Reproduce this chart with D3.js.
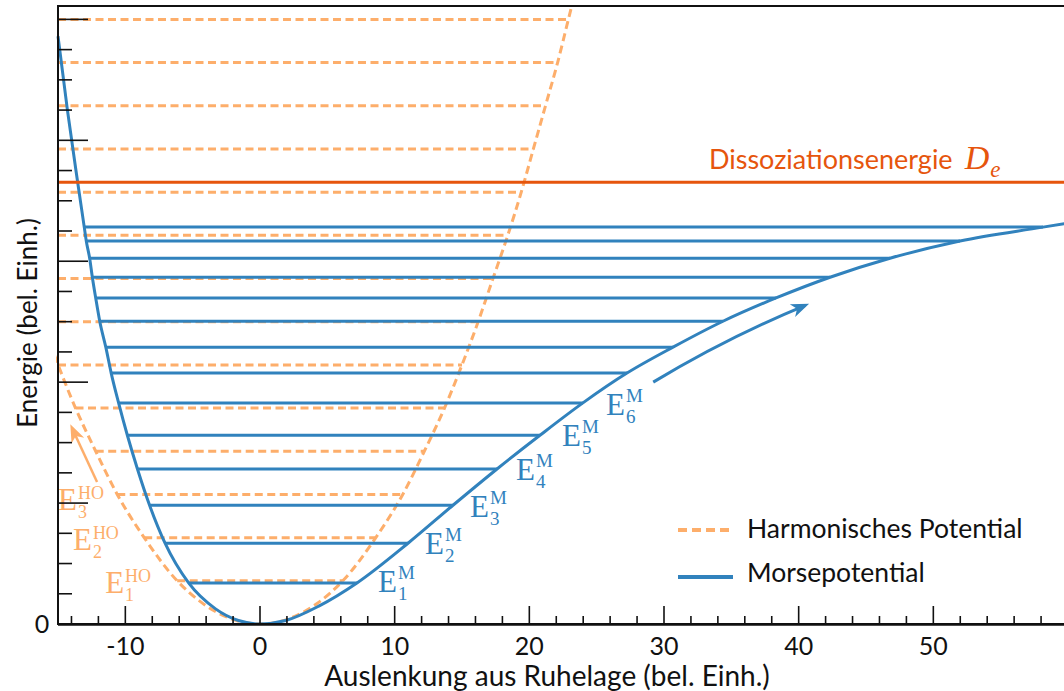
<!DOCTYPE html>
<html>
<head>
<meta charset="utf-8">
<script src="https://cdn.jsdelivr.net/npm/d3@7"></script>
<style>
  body { margin: 0; background: #fff; }
  svg { display: block; }
</style>
</head>
<body>
<svg id="chart" width="1064" height="691"></svg>
<script>
// ---- Data (energies in units of ħω, displacement in arbitrary units) ----

// Harmonic oscillator: levels and where each level meets the parabola
const hoLevels = [1, 2, 3, 4, 5, 6, 7, 8, 9, 10, 11, 12, 13, 14];
const hoLeftX  = [-6.15, -8.6, -10.6, -12.2, -13.7, -15.0, -16.2, -17.3, -18.4, -19.4, -20.3, -21.2, -22.1, -22.9];
const hoRightX = [6.15, 8.6, 10.6, 12.2, 13.7, 15.0, 16.2, 17.3, 18.4, 19.4, 20.3, 21.2, 22.1, 22.9];

// Harmonic potential curve samples
const hoCurveX = [-15.6, -13.7, -12.2, -10.6, -8.6, -6.15, -4.35, 0, 4.35, 6.15, 8.6, 10.6, 12.2, 13.7, 15.0, 16.2, 17.3, 18.4, 19.4, 20.3, 21.2, 22.1, 22.9, 23.5];
const hoCurveE = [6.5, 5, 4, 3, 2, 1, 0.5, 0, 0.5, 1, 2, 3, 4, 5, 6, 7, 8, 9, 10, 11, 12, 13, 14, 14.75];

// Morse oscillator: levels and their turning points
const morseLevels = [0.95, 1.87, 2.75, 3.59, 4.37, 5.12, 5.81, 6.41, 7.01, 7.55, 8.03, 8.47, 8.87, 9.19];
const morseLeftX  = [-5.3, -7.05, -8.2, -9.1, -9.85, -10.5, -11.05, -11.45, -11.9, -12.2, -12.45, -12.65, -12.9, -13.05];
const morseRightX = [7.2, 10.99, 14.33, 17.6, 20.79, 23.98, 27.25, 30.67, 34.38, 38.32, 42.33, 46.78, 51.98, 58.14];

// Morse potential curve samples
const morseCurveX = [-15.0, -14.3, -13.54, -13.05, -12.9, -12.65, -12.45, -12.2, -11.9, -11.45, -11.05, -10.5, -9.85, -9.1, -8.2, -7.05, -5.3, -3.3, -1.6, 0, 1.9, 4.4,
                     7.2, 10.99, 14.33, 17.6, 20.79, 23.98, 27.25, 30.67, 34.38, 38.32, 42.33, 46.78, 51.98, 58.14, 60.5];
const morseCurveE = [13.61, 11.9, 10.23, 9.19, 8.87, 8.47, 8.03, 7.55, 7.01, 6.41, 5.81, 5.12, 4.37, 3.59, 2.75, 1.87, 0.95, 0.35, 0.08, 0, 0.08, 0.42,
                     0.95, 1.87, 2.75, 3.59, 4.37, 5.12, 5.81, 6.41, 7.01, 7.55, 8.03, 8.47, 8.87, 9.19, 9.31];

// Dissociation energy
const dissociationEnergy = 10.23;

// Axis ticks
const xTickValues = d3.range(-14, 59, 2);
const xTickLabels = [-10, 0, 10, 20, 30, 40, 50];
const yTickValues = d3.range(0, 21).map(i => i * 0.7);

// Level annotations: [x, E, index]
const morseLabelPos = [[8.76, 0.74, 1], [12.25, 1.62, 2], [15.59, 2.48, 3], [19.01, 3.33, 4], [22.43, 4.12, 5], [25.69, 4.84, 6]];
const hoLabelPos = [[-11.5, 0.72, 1], [-13.89, 1.71, 2], [-15.0, 2.64, 3]];

// ---- Layout ----
const svg = d3.select("#chart");
const x = d3.scaleLinear().domain([-15, 60]).range([58, 1068]);
const y = d3.scaleLinear().domain([0, 14.31]).range([624, 6]);

const colors = { ho: "#fdae6b", morse: "#3182bd", de: "#e6550d", axis: "#111" };
const sans = "Lato, 'Open Sans', sans-serif";
const serif = "'Liberation Serif', 'DejaVu Serif', serif";

const defs = svg.append("defs");
defs.append("clipPath").attr("id", "plot-area")
  .append("rect")
  .attr("x", x(-15) - 2).attr("y", y(14.31))
  .attr("width", x(60) - x(-15) + 2).attr("height", y(0) - y(14.31));

function arrowMarker(id, color) {
  defs.append("marker")
    .attr("id", id)
    .attr("viewBox", "-16 -8 22 16")
    .attr("refX", 0).attr("refY", 0)
    .attr("markerWidth", 22).attr("markerHeight", 16)
    .attr("markerUnits", "userSpaceOnUse")
    .attr("orient", "auto")
    .append("path")
    .attr("d", "M4,0 L-14,-7 L-9,0 L-14,7 Z")
    .attr("fill", color);
}
arrowMarker("arrow-morse", colors.morse);
arrowMarker("arrow-ho", colors.ho);

const plot = svg.append("g").attr("clip-path", "url(#plot-area)");

// Harmonic levels (dashed)
plot.append("g").selectAll("line").data(hoLevels).join("line")
  .attr("x1", (d, i) => Math.max(x(hoLeftX[i]), x(-15)))
  .attr("x2", (d, i) => x(hoRightX[i]))
  .attr("y1", d => y(d)).attr("y2", d => y(d))
  .attr("stroke", colors.ho).attr("stroke-width", 3)
  .attr("stroke-dasharray", "8,4.5");

// Harmonic potential (dashed)
const line = d3.line().x(d => x(d[0])).y(d => y(d[1])).curve(d3.curveMonotoneX);
plot.append("path")
  .datum(d3.zip(hoCurveX, hoCurveE))
  .attr("d", line)
  .attr("fill", "none")
  .attr("stroke", colors.ho).attr("stroke-width", 3)
  .attr("stroke-dasharray", "8,4.5");

// Morse levels
plot.append("g").selectAll("line").data(morseLevels).join("line")
  .attr("x1", (d, i) => x(morseLeftX[i]))
  .attr("x2", (d, i) => x(morseRightX[i]))
  .attr("y1", d => y(d)).attr("y2", d => y(d))
  .attr("stroke", colors.morse).attr("stroke-width", 3);

// Morse potential
plot.append("path")
  .datum(d3.zip(morseCurveX, morseCurveE))
  .attr("d", line)
  .attr("fill", "none")
  .attr("stroke", colors.morse).attr("stroke-width", 3);

// Dissociation energy
plot.append("line")
  .attr("x1", x(-15)).attr("x2", x(60))
  .attr("y1", y(dissociationEnergy)).attr("y2", y(dissociationEnergy))
  .attr("stroke", colors.de).attr("stroke-width", 3);

const deLabel = svg.append("text")
  .attr("x", x(33.34)).attr("y", y(dissociationEnergy) - 13)
  .attr("fill", colors.de)
  .style("font-family", sans).style("font-size", "27px")
  .text("Dissoziationsenergie");
deLabel.append("tspan").attr("dx", 12)
  .style("font-family", serif).style("font-style", "italic").style("font-size", "34px")
  .text("D");
deLabel.append("tspan").attr("dy", 8).attr("dx", 1)
  .style("font-family", serif).style("font-style", "italic").style("font-size", "23px")
  .text("e");

// Direction arrows along the potentials
const mp = d3.path();
mp.moveTo(x(29.2), y(5.6));
mp.quadraticCurveTo(x(34.6), y(6.62), x(40.5), y(7.38));
svg.append("path").attr("d", mp.toString())
  .attr("fill", "none").attr("stroke", colors.morse).attr("stroke-width", 3)
  .attr("marker-end", "url(#arrow-morse)");

svg.append("path")
  .attr("d", `M${x(-12.1)},${y(3.29)} L${x(-13.96)},${y(4.54)}`)
  .attr("fill", "none").attr("stroke", colors.ho).attr("stroke-width", 2.5)
  .attr("marker-end", "url(#arrow-ho)");

// Level labels E_n^M and E_n^HO: one text, superscript and subscript stacked
function levelLabel(xv, yv, sup, sub, color, opts) {
  const t = svg.append("text")
    .attr("x", x(xv)).attr("y", y(yv))
    .attr("fill", color)
    .style("font-family", serif);
  t.append("tspan").style("font-size", "31px").text("E");
  const supSpan = t.append("tspan").attr("dx", 1).attr("dy", -opts.up)
    .style("font-size", opts.size + "px").text(sup);
  const supW = supSpan.node().getComputedTextLength();
  t.append("tspan").attr("dx", -supW).attr("dy", opts.up + opts.down)
    .style("font-size", opts.size + "px").text(sub);
}
morseLabelPos.forEach(([xv, yv, n]) => levelLabel(xv, yv, "M", n, colors.morse, { size: 19, up: 13, down: 8 }));
hoLabelPos.forEach(([xv, yv, n]) => levelLabel(xv, yv, "HO", n, colors.ho, { size: 18, up: 11, down: 8 }));

// ---- Axes / frame ----
const axes = svg.append("g").attr("stroke", colors.axis);
axes.append("rect")
  .attr("x", x(-15)).attr("y", y(14.31))
  .attr("width", x(60) - x(-15)).attr("height", y(0) - y(14.31))
  .attr("fill", "none").attr("stroke-width", 2);
axes.append("line")
  .attr("x1", x(-15)).attr("x2", x(60)).attr("y1", y(0) + 0.5).attr("y2", y(0) + 0.5)
  .attr("stroke-width", 2.5);

axes.selectAll(".xt").data(xTickValues).join("line")
  .attr("x1", d => x(d)).attr("x2", d => x(d))
  .attr("y1", y(0)).attr("y2", d => y(0) - (d % 10 === 0 ? 18 : 8))
  .attr("stroke-width", 1.6);

axes.selectAll(".yt").data(yTickValues.slice(1)).join("line")
  .attr("x1", x(-15))
  .attr("x2", (d, i) => x(-15) + ((i + 1) % 4 === 0 ? 30 : 14))
  .attr("y1", d => y(d)).attr("y2", d => y(d))
  .attr("stroke-width", 1.6);

svg.append("g").selectAll("text").data(xTickLabels).join("text")
  .attr("x", d => x(d)).attr("y", 655)
  .attr("text-anchor", "middle")
  .style("font-family", sans).style("font-size", "25px").attr("fill", colors.axis)
  .text(d => d);

svg.append("text")
  .attr("x", 42).attr("y", y(0) + 9)
  .attr("text-anchor", "middle")
  .style("font-family", sans).style("font-size", "25px").attr("fill", colors.axis)
  .text(yTickValues[0]);

svg.append("text")
  .attr("x", 547).attr("y", 686)
  .attr("text-anchor", "middle")
  .style("font-family", sans).style("font-size", "28px").attr("fill", colors.axis)
  .text("Auslenkung aus Ruhelage (bel. Einh.)");

svg.append("text")
  .attr("transform", "translate(37,323) rotate(-90)")
  .attr("text-anchor", "middle")
  .style("font-family", sans).style("font-size", "26px").attr("fill", colors.axis)
  .text("Energie (bel. Einh.)");

// ---- Legend ----
const legend = svg.append("g").attr("transform", "translate(678,530)");
legend.append("line").attr("x1", 0).attr("x2", 53).attr("y1", 0).attr("y2", 0)
  .attr("stroke", colors.ho).attr("stroke-width", 4).attr("stroke-dasharray", "9,5");
legend.append("text").attr("x", 69).attr("y", 8)
  .style("font-family", sans).style("font-size", "26.5px").attr("fill", colors.axis)
  .text("Harmonisches Potential");
legend.append("line").attr("x1", 0).attr("x2", 55).attr("y1", 47).attr("y2", 47)
  .attr("stroke", colors.morse).attr("stroke-width", 4);
legend.append("text").attr("x", 69).attr("y", 52)
  .style("font-family", sans).style("font-size", "26.5px").attr("fill", colors.axis)
  .text("Morsepotential");
</script>
</body>
</html>
